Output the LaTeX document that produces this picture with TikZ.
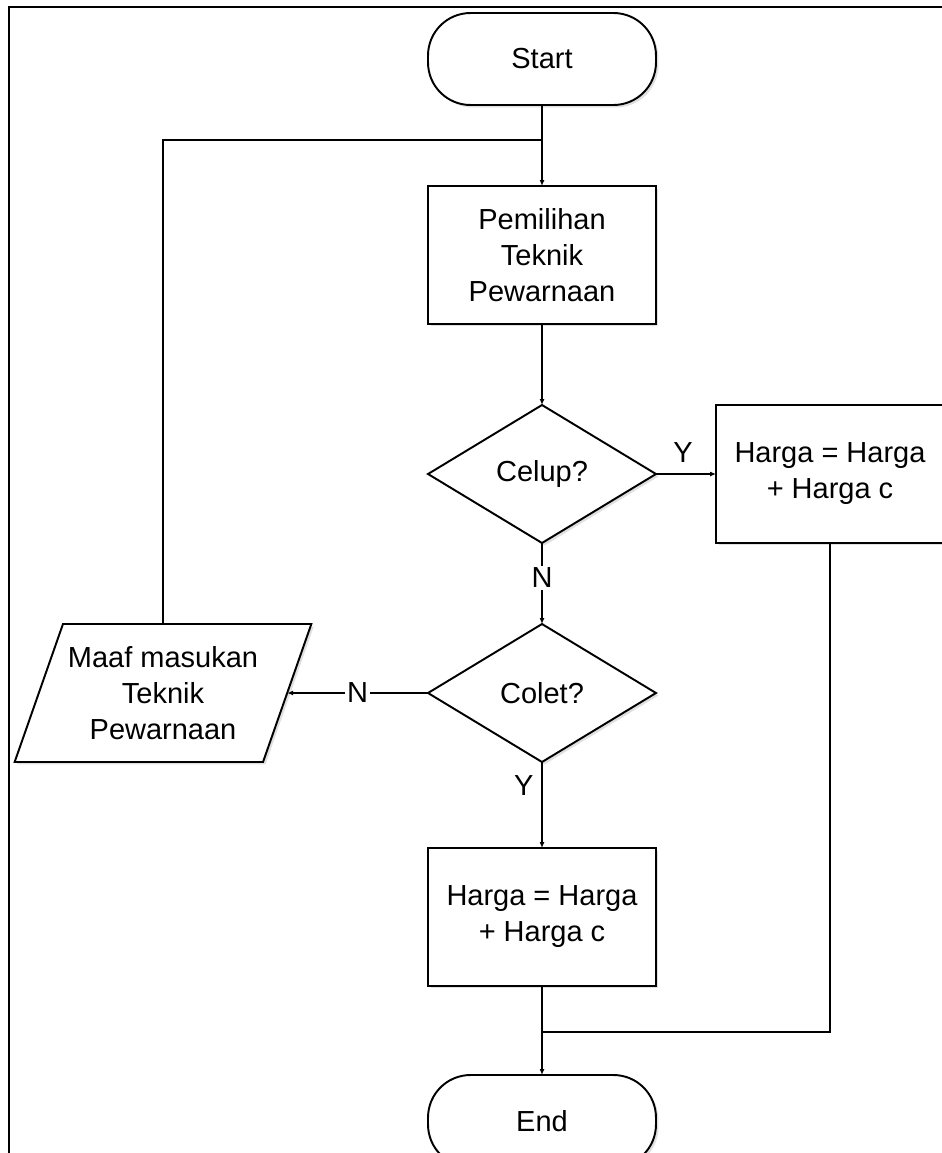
\documentclass[tikz,border=0pt]{standalone}
\usepackage{fontspec}
\setmainfont{Liberation Sans}
\usepackage{tikz}
\usetikzlibrary{arrows.meta, shapes.geometric, shadows}

\tikzset{
  base/.style={draw, line width=1.1pt, fill=white, align=center, inner sep=0pt, outer sep=0pt,
    drop shadow={fill=black!12, opacity=1, shadow xshift=0.05cm, shadow yshift=-0.05cm}},
  term/.style={base, rectangle, rounded corners=0.85cm, minimum width=4.56cm, minimum height=1.84cm},
  proc/.style={base, rectangle, minimum width=4.56cm, minimum height=2.76cm},
  decision/.style={base, diamond, minimum width=4.56cm, minimum height=2.76cm},
  io/.style={base, trapezium, trapezium stretches=true, trapezium left angle=63.8,
    trapezium right angle=116.2, minimum width=5.94cm, minimum height=2.76cm},
  flow/.style={line width=1pt, -{Latex[length=1.2mm, width=1mm]}},
  link/.style={line width=1pt},
  lbl/.style={fill=white, inner sep=1pt}
}

\begin{document}
\begin{tikzpicture}[x=0.02cm, y=-0.02cm, font=\fontsize{16.5}{20.5}\selectfont]
  \useasboundingbox (0,0) rectangle (942,1153);
  \clip (0,0) rectangle (942,1153);

  % frame
  \draw[link] (9,1160) -- (9,7) -- (950,7);

  \node[term] (start) at (542,59) {Start};
  \node[proc] (pilih) at (542,255) {Pemilihan\\Teknik\\Pewarnaan};
  \node[decision] (celup) at (542,474) {Celup?};
  \node[proc] (hargac) at (830,474) {Harga = Harga\\+ Harga c};
  \node[decision] (colet) at (542,693) {Colet?};
  \node[io] (maaf) at (163,693) {Maaf masukan\\Teknik\\Pewarnaan};
  \node[proc] (hargak) at (542,917) {Harga = Harga\\+ Harga c};
  \node[term] (end) at (542,1121) {End};

  \coordinate (j1) at (542,140);
  \coordinate (j2) at (542,1032);

  \draw[flow] (start) -- (pilih);
  \draw[link] (maaf.north) |- (j1);
  \draw[flow] (pilih) -- (celup);
  \draw[flow] (celup.east) -- node[above=3pt, pos=0.45] {Y} (hargac.west);
  \draw[flow] (celup.south) -- node[lbl, pos=0.43] {N} (colet.north);
  \draw[flow] (colet.west) -- node[lbl] {N} (maaf.east);
  \draw[flow] (colet.south) -- node[left=1pt, pos=0.27] {Y} (hargak.north);
  \draw[flow] (hargak) -- (end);
  \draw[link] (hargac.south) |- (j2);
\end{tikzpicture}
\end{document}
